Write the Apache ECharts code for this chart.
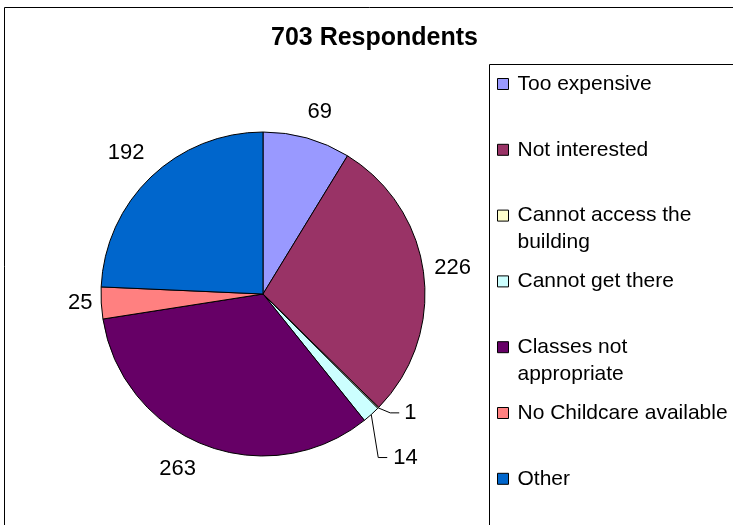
<!DOCTYPE html>
<html><head><meta charset="utf-8">
<script src="https://cdn.jsdelivr.net/npm/echarts@6/dist/echarts.min.js"></script>
<style>html,body{margin:0;padding:0;background:#fff}#c{width:733px;height:525px}</style>
</head><body><div id="c"></div>
<script>
var titleText = '703 Respondents';
var categories = ['Too expensive','Not interested','Cannot access the building','Cannot get there','Classes not appropriate','No Childcare available','Other'];
var legendLabels = ['Too expensive','Not interested','Cannot access the\nbuilding','Cannot get there','Classes not\nappropriate','No Childcare available','Other'];
var values = [69,226,1,14,263,25,192];
var colors = ['#9999FF','#993366','#FFFFCC','#CCFFFF','#660066','#FF8080','#0066CC'];
var lineLabelled = [false,false,true,true,false,false,false];

// label placement tweaks (pixels)
var ringNudge = {0:[4,6], 1:[-4,-2], 4:[-15,-7], 5:[12,-2], 6:[-2,0]};
// leader line shape: [elbow dx, elbow dy, horizontal run, text gap]
var leaderShape = {2:[12,5,9,5], 3:[7,43,9,6]};

var font = 'Liberation Sans, Arial, sans-serif';
var chart = echarts.init(document.getElementById('c'));

var mainData = categories.map(function(n,i){
  return {name:n, value:values[i], itemStyle:{color:colors[i]},
    label:{show:lineLabelled[i]}, labelLine:{show:lineLabelled[i]}};
});
var ringData = categories.map(function(n,i){
  return {name:n, value:values[i], label:{show:!lineLabelled[i]}};
});

chart.setOption({
  animation:false,
  title:{text:titleText, left:271, top:26, padding:0,
    textStyle:{fontFamily:font, fontSize:25, fontWeight:'bold', color:'#000'}},
  legend:{orient:'vertical', left:497, top:43.5, padding:0, itemGap:-15.2,
    itemWidth:11, itemHeight:11, icon:'rect',
    itemStyle:{borderColor:'#000', borderWidth:1},
    data:categories,
    formatter:function(n){ var t = legendLabels[categories.indexOf(n)]; return '\n' + t + (t.indexOf('\n')<0 ? '\n' : ''); },
    textStyle:{fontFamily:font, fontSize:21, lineHeight:27, color:'#000', padding:[0,0,0,4]},
    selectedMode:false},
  graphic:[
    {type:'rect', shape:{x:4.5,y:7.5,width:900,height:700}, style:{fill:null, stroke:'#000', lineWidth:1}, z:-10},
    {type:'rect', shape:{x:489.5,y:64.5,width:400,height:600}, style:{fill:null, stroke:'#000', lineWidth:1}, z:-9}
  ],
  series:[
    {type:'pie', center:[263,294], radius:162, startAngle:90, clockwise:true,
     data:mainData, emphasis:{disabled:true}, silent:true,
     itemStyle:{borderColor:'#000', borderWidth:1},
     label:{position:'outside', fontFamily:font, fontSize:22, color:'#000', formatter:'{c}'},
     labelLine:{length:12, length2:10, lineStyle:{color:'#000', width:1}, smooth:false},
     labelLayout:function(p){
       var s = leaderShape[p.dataIndex];
       if (!s || !p.labelLinePoints) return {};
       var p0 = p.labelLinePoints[0];
       var p1 = [p0[0] + s[0], p0[1] + s[1]];
       var p2 = [p1[0] + s[2], p1[1]];
       return {x:p2[0] + s[3], y:p2[1], align:'left', verticalAlign:'middle', labelLinePoints:[p0, p1, p2]};
     },
     avoidLabelOverlap:true},
    {type:'pie', center:[263,294], radius:[162,222], startAngle:90, clockwise:true,
     data:ringData, emphasis:{disabled:true}, silent:true,
     itemStyle:{color:'rgba(0,0,0,0)', borderWidth:0},
     label:{position:'inside', fontFamily:font, fontSize:22, color:'#000', formatter:'{c}'},
     labelLayout:function(p){
       var d = ringNudge[p.dataIndex];
       if (!d) return {};
       return {x:p.labelRect.x + p.labelRect.width/2 + d[0], y:p.labelRect.y + p.labelRect.height/2 + d[1], align:'center', verticalAlign:'middle'};
     },
     labelLine:{show:false}}
  ]
});
</script></body></html>
